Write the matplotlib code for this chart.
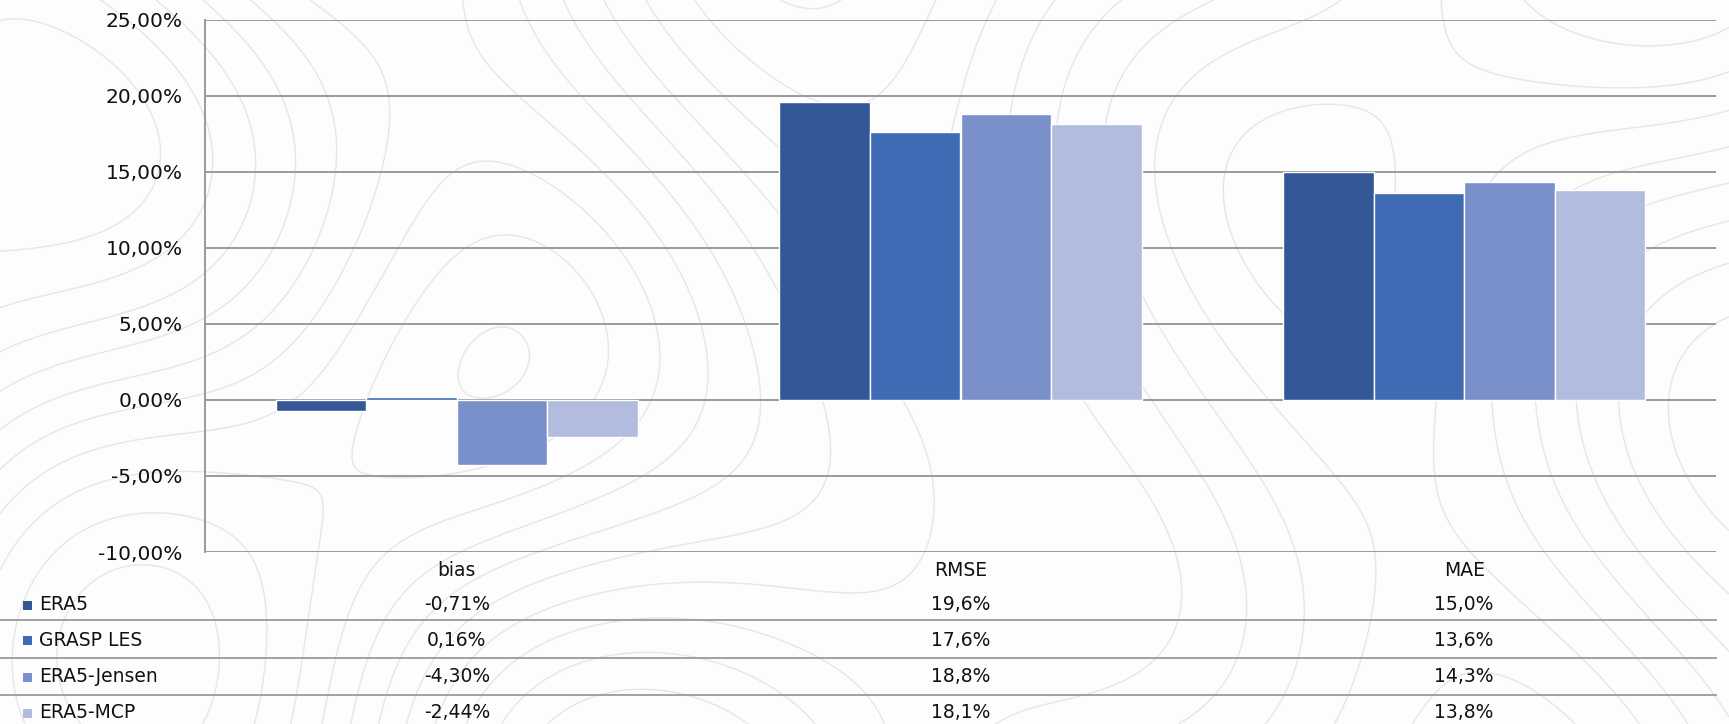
import numpy as np
import matplotlib
matplotlib.use("Agg")
import matplotlib.pyplot as plt
from matplotlib import transforms
from matplotlib.lines import Line2D
from matplotlib.patches import Rectangle

# Metrics and series
categories = ["bias", "RMSE", "MAE"]
series_names = ["ERA5", "GRASP LES", "ERA5-Jensen", "ERA5-MCP"]
era5 = [-0.71, 19.6, 15.0]
grasp_les = [0.16, 17.6, 13.6]
era5_jensen = [-4.30, 18.8, 14.3]
era5_mcp = [-2.44, 18.1, 13.8]
decimals = [2, 1, 1]
y_ticks = [-10, -5, 0, 5, 10, 15, 20, 25]

series_values = [era5, grasp_les, era5_jensen, era5_mcp]
colors = ["#345797", "#3e6bb4", "#7a90ca", "#b2bcdf"]
grid_color = "#9a9a9a"
text_color = "#111111"

plt.rcParams["font.family"] = ["DejaVu Sans"]
plt.rcParams["contour.negative_linestyle"] = "solid"

W, H = 1729, 724
fig = plt.figure(figsize=(W / 100, H / 100), dpi=100)
fig.patch.set_facecolor("#fdfdfd")

# Decorative topographic background
bg = fig.add_axes([0, 0, 1, 1], zorder=-5)
gx = np.linspace(0, 17.29, 500)
gy = np.linspace(0, 7.24, 220)
X, Y = np.meshgrid(gx, gy)
Z = (np.sin(0.55 * X + 0.8 * np.cos(0.45 * Y)) * 1.2
     + np.cos(0.7 * Y - 0.35 * X) * 0.9
     + 0.6 * np.sin(0.9 * X + 0.6 * Y)
     + 0.8 * np.exp(-((X - 4.6) ** 2 + (Y - 3.0) ** 2) / 3.0)
     + 0.7 * np.exp(-((X - 9.3) ** 2 + (Y - 2.2) ** 2) / 4.0))
bg.contour(X, Y, Z, levels=14, colors="#e6e6e6", linewidths=1.0,
           linestyles="solid")
bg.set_xlim(0, 17.29)
bg.set_ylim(0, 7.24)
bg.axis("off")

# Main chart
left, right = 205 / W, 1716 / W
top, bottom = 1 - 19.5 / H, 1 - 552 / H
ax = fig.add_axes([left, bottom, right - left, top - bottom])
ax.set_facecolor("none")

n = len(series_names)
x = np.arange(len(categories))
bw = 0.18
for i, (vals, c) in enumerate(zip(series_values, colors)):
    ax.bar(x + (i - (n - 1) / 2) * bw, vals, width=bw, color=c,
           edgecolor="white", linewidth=1.0, zorder=3)

ax.set_xlim(-0.5, len(categories) - 0.5)
ax.set_ylim(y_ticks[0], y_ticks[-1])
ax.set_yticks(y_ticks)
ax.set_yticklabels([f"{v:.2f}%".replace(".", ",") for v in y_ticks],
                   fontsize=14.5, color=text_color)
ax.set_xticks([])
ax.tick_params(axis="y", length=0, pad=16)
ax.grid(axis="y", color=grid_color, linewidth=1.4, zorder=1)
for s in ["top", "right", "bottom"]:
    ax.spines[s].set_visible(False)
ax.spines["left"].set_color(grid_color)
ax.spines["left"].set_linewidth(1.4)

# Data table beneath the plot
tr = transforms.blended_transform_factory(ax.transData, fig.transFigure)
def fy(px):
    return 1 - px / H

fs = 13.5
for j, cat in enumerate(categories):
    fig.text(x[j], fy(570), cat, transform=tr, ha="center", va="center",
             fontsize=fs, color=text_color)

row_y = [605, 640, 677, 713]
line_y = [620, 658, 695]
for ly in line_y:
    fig.add_artist(Line2D([0, right], [fy(ly), fy(ly)], transform=fig.transFigure,
                          color=grid_color, linewidth=1.3))

for i, (name, vals, c) in enumerate(zip(series_names, series_values, colors)):
    yc = fy(row_y[i])
    fig.add_artist(Rectangle((23 / W, yc - 4.5 / H), 9 / W, 9 / H,
                             transform=fig.transFigure, facecolor=c, edgecolor="none"))
    fig.text(39 / W, yc, name, ha="left", va="center", fontsize=fs, color=text_color)
    for j, v in enumerate(vals):
        label = f"{v:.{decimals[j]}f}%".replace(".", ",")
        fig.text(x[j], yc, label, transform=tr, ha="center", va="center",
                 fontsize=fs, color=text_color)

fig.savefig("out.png", dpi=100, facecolor=fig.get_facecolor())
